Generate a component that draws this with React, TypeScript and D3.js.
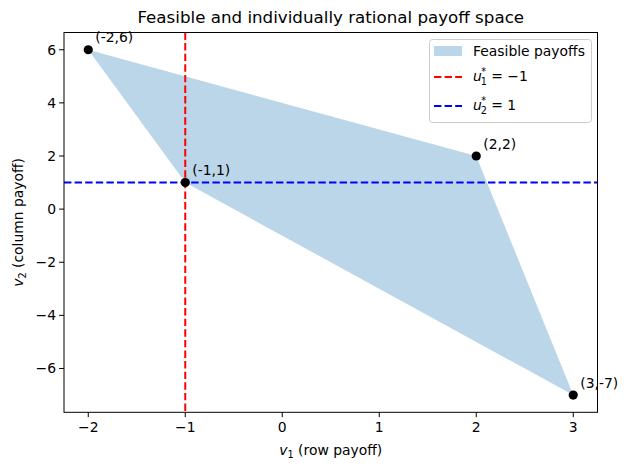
import React from "react";
import * as d3 from "d3";

// payoff vertices (row, column)
const pointsX = [-2, 2, 3, -1];
const pointsY = [6, 2, -7, 1];
const pointLabels = ["(-2,6)", "(2,2)", "(3,-7)", "(-1,1)"];
// convex hull order
const hullOrder = [0, 1, 2, 3];
const minmaxRow = -1;
const minmaxCol = 1;
const xTicks = [-2, -1, 0, 1, 2, 3];
const yTicks = [-6, -4, -2, 0, 2, 4, 6];

const W = 628;
const H = 470;
const left = 64;
const right = 597.5;
const top = 32.5;
const bottom = 412.3;
const font = "DejaVu Sans, sans-serif";

const fmt = (v: number) => (v < 0 ? "\u2212" + Math.abs(v) : String(v));

const App = () => {
  const x = d3.scaleLinear().domain([-2.25, 3.25]).range([left, right]);
  const y = d3.scaleLinear().domain([-7.65, 6.65]).range([bottom, top]);

  const line = d3
    .line<number>()
    .x((i) => x(pointsX[i]))
    .y((i) => y(pointsY[i]))
    .curve(d3.curveLinearClosed);

  const dash = "7.4,3.2";

  return (
    <svg width={W} height={H} style={{ position: "absolute", left: 0, top: 0 }} fontFamily={font}>
      <rect width={W} height={H} fill="#fff" />
      <defs>
        <clipPath id="plotclip">
          <rect x={left} y={top} width={right - left} height={bottom - top} />
        </clipPath>
      </defs>
      <g clipPath="url(#plotclip)">
        <path d={line(hullOrder) || ""} fill="#1f77b4" fillOpacity={0.3} />
        <line x1={x(minmaxRow)} x2={x(minmaxRow)} y1={top} y2={bottom} stroke="red" strokeWidth={2} strokeDasharray={dash} />
        <line x1={left} x2={right} y1={y(minmaxCol)} y2={y(minmaxCol)} stroke="blue" strokeWidth={2} strokeDasharray={dash} />
      </g>
      {pointsX.map((px, i) => (
        <g key={i}>
          <circle cx={x(px)} cy={y(pointsY[i])} r={4.6} fill="#000" />
          <text x={x(px) + 7} y={y(pointsY[i]) - 7.5} fontSize={13.9} fill="#000">
            {pointLabels[i]}
          </text>
        </g>
      ))}
      <rect x={left} y={top} width={right - left} height={bottom - top} fill="none" stroke="#000" strokeWidth={1} />
      {xTicks.map((t) => (
        <g key={"x" + t}>
          <line x1={x(t)} x2={x(t)} y1={bottom} y2={bottom + 4.9} stroke="#000" />
          <text x={x(t)} y={bottom + 19.5} textAnchor="middle" fontSize={13.9}>
            {fmt(t)}
          </text>
        </g>
      ))}
      {yTicks.map((t) => (
        <g key={"y" + t}>
          <line x1={left - 4.9} x2={left} y1={y(t)} y2={y(t)} stroke="#000" />
          <text x={left - 8} y={y(t) + 5} textAnchor="end" fontSize={13.9}>
            {fmt(t)}
          </text>
        </g>
      ))}
      <text x={(left + right) / 2} y={23} textAnchor="middle" fontSize={16.7}>
        Feasible and individually rational payoff space
      </text>
      <text x={(left + right) / 2} y={455} textAnchor="middle" fontSize={13.9}>
        <tspan fontStyle="italic">v</tspan>
        <tspan fontSize={9.7} dy={3}>1</tspan>
        <tspan dy={-3}> (row payoff)</tspan>
      </text>
      <text transform={`translate(23,${(top + bottom) / 2}) rotate(-90)`} textAnchor="middle" fontSize={13.9}>
        <tspan fontStyle="italic">v</tspan>
        <tspan fontSize={9.7} dy={3}>2</tspan>
        <tspan dy={-3}> (column payoff)</tspan>
      </text>
      <g>
        <rect x={429.5} y={39.5} width={162} height={83} rx={3} fill="#fff" fillOpacity={0.8} stroke="#ccc" />
        <rect x={434} y={46} width={28} height={10} fill="#1f77b4" fillOpacity={0.3} />
        <text x={473} y={56} fontSize={13.9}>Feasible payoffs</text>
        <line x1={434} x2={462} y1={77} y2={77} stroke="red" strokeWidth={2} strokeDasharray={dash} />
        <text x={473} y={81} fontSize={13.9}>
          <tspan fontStyle="italic">u</tspan>
          <tspan fontSize={9.7} dx={-0.5} dy={-6}>*</tspan>
          <tspan fontSize={9.7} dx={-5.5} dy={10}>1</tspan>
          <tspan dy={-4}> = −1</tspan>
        </text>
        <line x1={434} x2={462} y1={106} y2={106} stroke="blue" strokeWidth={2} strokeDasharray={dash} />
        <text x={473} y={110} fontSize={13.9}>
          <tspan fontStyle="italic">u</tspan>
          <tspan fontSize={9.7} dx={-0.5} dy={-6}>*</tspan>
          <tspan fontSize={9.7} dx={-5.5} dy={10}>2</tspan>
          <tspan dy={-4}> = 1</tspan>
        </text>
      </g>
    </svg>
  );
};

export default App;
